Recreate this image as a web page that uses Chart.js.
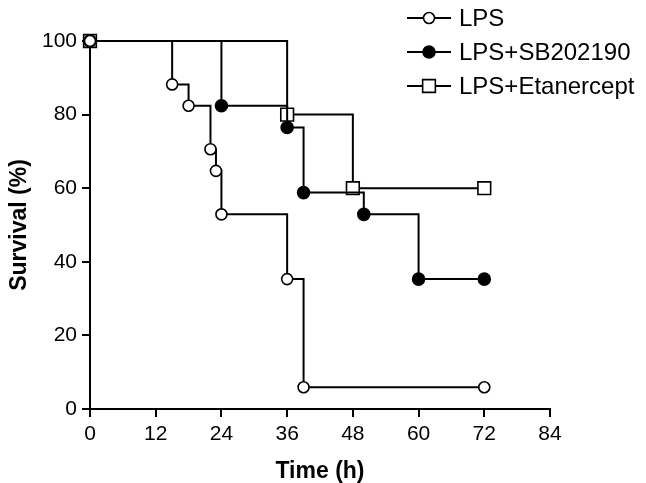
<!DOCTYPE html>
<html>
<head>
<meta charset="utf-8">
<script src="https://cdn.jsdelivr.net/npm/chart.js@4.4.1/dist/chart.umd.min.js"></script>
<style>
  html, body { margin: 0; padding: 0; background: #fff; }
  #chart { display: block; }
</style>
</head>
<body>
<canvas id="chart" width="646" height="483"></canvas>
<script>
const SERIES_NAMES = ["LPS", "LPS+SB202190", "LPS+Etanercept"];

const lpsTimes = [0, 15, 18, 22, 23, 24, 36, 39, 72];
const lpsSurvival = [100, 88.2, 82.4, 70.6, 64.7, 52.9, 35.3, 5.9, 5.9];

const sbTimes = [0, 24, 36, 39, 50, 60, 72];
const sbSurvival = [100, 82.4, 76.5, 58.8, 52.9, 35.3, 35.3];

const etTimes = [0, 36, 48, 72];
const etSurvival = [100, 80, 60, 60];

const X_TICKS = [0, 12, 24, 36, 48, 60, 72, 84];
const Y_TICKS = [0, 20, 40, 60, 80, 100];

const FONT = "'Liberation Sans', Arial, sans-serif";

function toPoints(times, values) {
  return times.map((t, i) => ({ x: t, y: values[i] }));
}

function makeDataset(label, times, values, style) {
  return {
    label,
    data: toPoints(times, values),
    stepped: "before",
    borderColor: "#000",
    borderWidth: 2,
    pointStyle: style.pointStyle,
    pointRadius: style.radius,
    pointBorderWidth: 1.6,
    pointBorderColor: "#000",
    pointBackgroundColor: style.fill,
    clip: false,
    fill: false,
  };
}

const styles = [
  { pointStyle: "circle", radius: 5.5, fill: "#fff" },
  { pointStyle: "circle", radius: 6, fill: "#000" },
  { pointStyle: "rect", radius: 9, fill: "#fff" },
];

// legend drawn by hand: line with marker through it, text to the right
const legendPlugin = {
  id: "stepLegend",
  afterDraw(chart) {
    const ctx = chart.ctx;
    const rows = [18, 52, 86];
    ctx.save();
    chart.data.datasets.forEach((ds, i) => {
      const y = rows[i];
      ctx.strokeStyle = "#000";
      ctx.lineWidth = 2;
      ctx.beginPath();
      ctx.moveTo(407, y);
      ctx.lineTo(451, y);
      ctx.stroke();
      ctx.fillStyle = ds.pointBackgroundColor;
      ctx.lineWidth = 1.6;
      Chart.helpers.drawPoint(ctx, {
        pointStyle: ds.pointStyle,
        rotation: 0,
        radius: ds.pointRadius,
        borderWidth: 1.6,
      }, 429, y);
      ctx.fillStyle = "#000";
      ctx.font = "24px " + FONT;
      ctx.textAlign = "left";
      ctx.textBaseline = "middle";
      ctx.fillText(ds.label, 459, y + 1);
    });
    ctx.restore();
  },
};

new Chart(document.getElementById("chart"), {
  type: "line",
  data: {
    datasets: [
      makeDataset(SERIES_NAMES[0], lpsTimes, lpsSurvival, styles[0]),
      makeDataset(SERIES_NAMES[1], sbTimes, sbSurvival, styles[1]),
      makeDataset(SERIES_NAMES[2], etTimes, etSurvival, styles[2]),
    ],
  },
  options: {
    responsive: false,
    animation: false,
    layout: { padding: { left: 0, top: 41, right: 96, bottom: 0 } },
    plugins: { legend: { display: false }, tooltip: { enabled: false } },
    scales: {
      x: {
        type: "linear",
        min: 0,
        max: 84,
        afterFit(scale) { scale.height = 74; },
        afterBuildTicks(scale) { scale.ticks = X_TICKS.map((v) => ({ value: v })); },
        border: { display: true, color: "#000", width: 2 },
        grid: { display: true, drawOnChartArea: false, drawTicks: true, tickLength: 8, color: "#000", lineWidth: 2 },
        ticks: { color: "#000", padding: 5, font: { family: FONT, size: 21 } },
        title: {
          display: true,
          text: "Time (h)",
          color: "#000",
          padding: { top: 0, bottom: 0 },
          font: { family: FONT, size: 23, weight: "bold", lineHeight: 1 },
        },
      },
      y: {
        type: "linear",
        min: 0,
        max: 100,
        afterFit(scale) { scale.width = 90; },
        afterBuildTicks(scale) { scale.ticks = Y_TICKS.map((v) => ({ value: v })); },
        border: { display: true, color: "#000", width: 2 },
        grid: { display: true, drawOnChartArea: false, drawTicks: true, tickLength: 8, color: "#000", lineWidth: 2 },
        ticks: { color: "#000", padding: 5, font: { family: FONT, size: 21 } },
        title: {
          display: true,
          text: "Survival (%)",
          color: "#000",
          padding: { top: 8, bottom: 0 },
          font: { family: FONT, size: 23, weight: "bold", lineHeight: 1 },
        },
      },
    },
  },
  plugins: [legendPlugin],
});
</script>
</body>
</html>
